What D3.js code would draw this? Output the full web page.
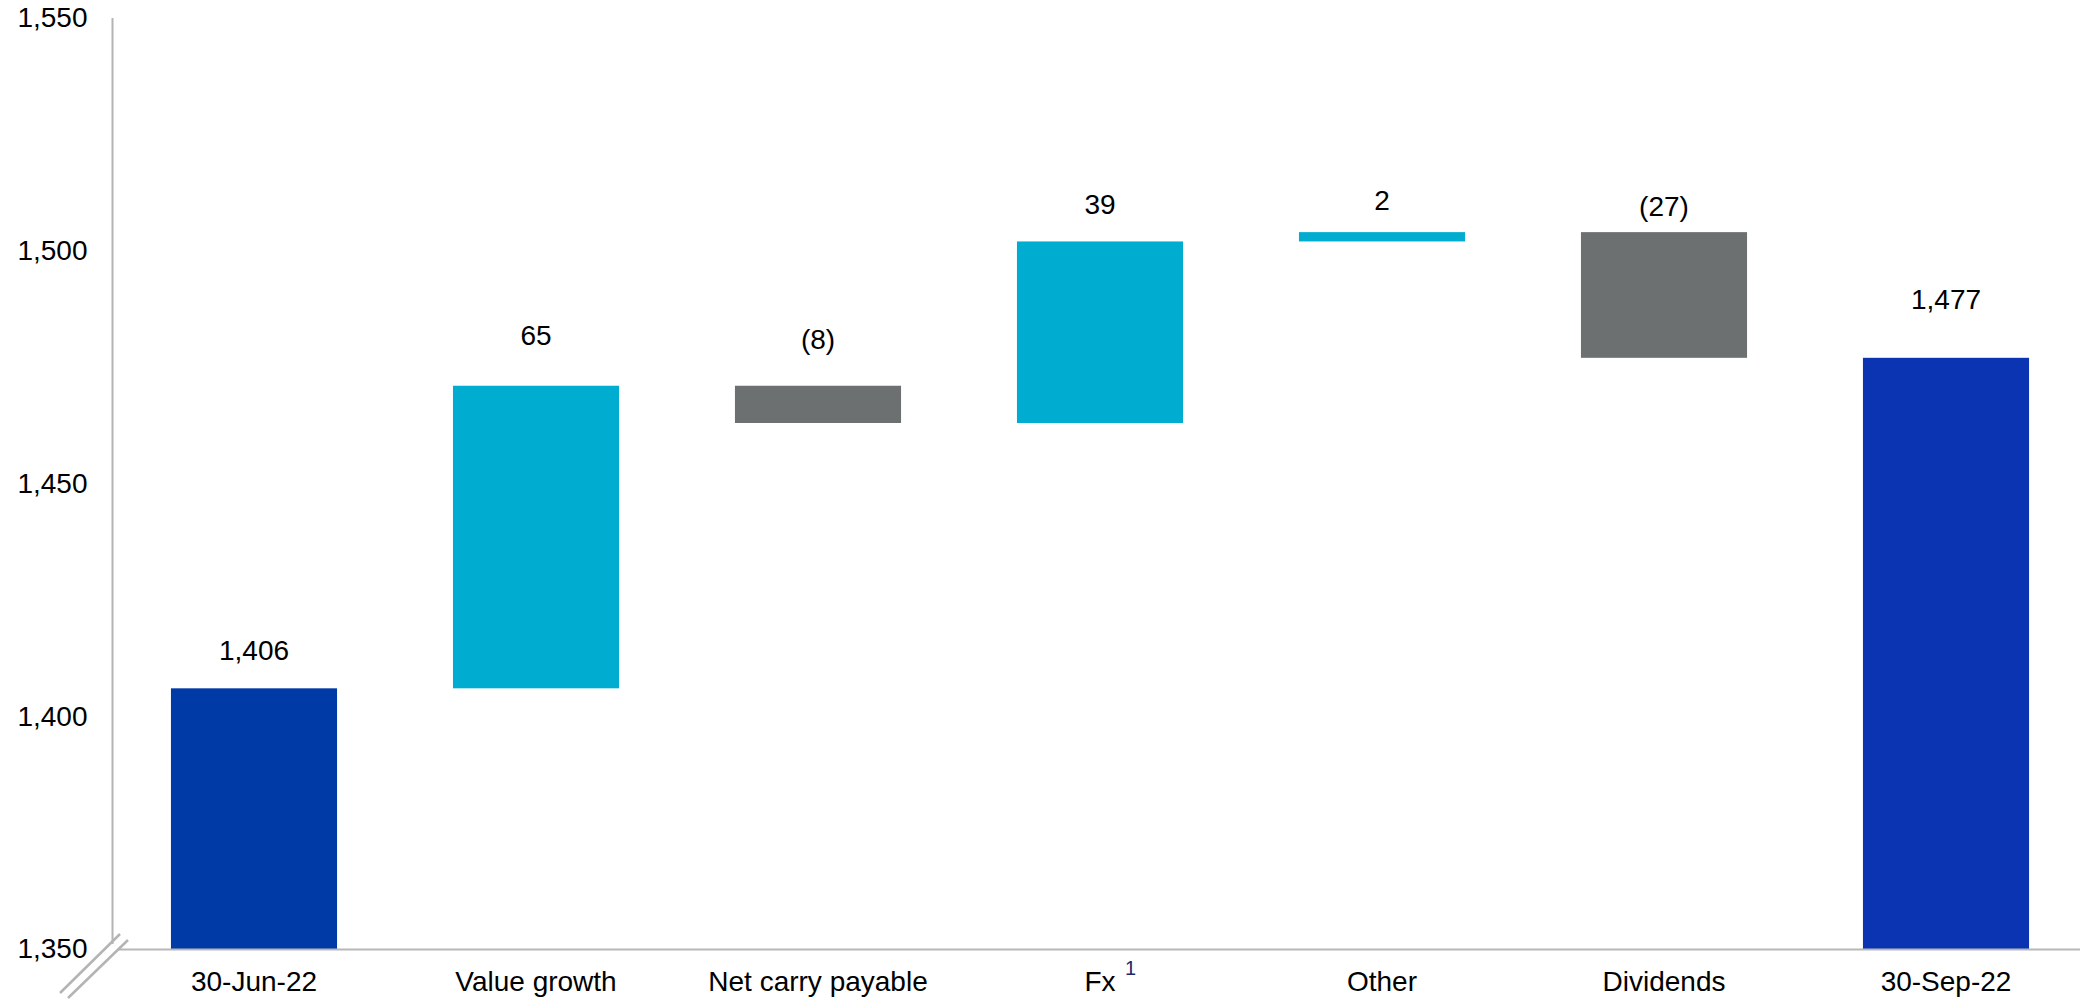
<!DOCTYPE html>
<html>
<head>
<meta charset="utf-8">
<script src="https://cdn.jsdelivr.net/npm/d3@7"></script>
<style>
  html, body { margin: 0; padding: 0; background: #fff; }
  svg { display: block; font-family: "Liberation Sans", Arial, sans-serif; }
</style>
</head>
<body>
<svg id="chart" width="2080" height="1002"></svg>
<script>
// ---- data ----
const categories = ["30-Jun-22", "Value growth", "Net carry payable", "Fx", "Other", "Dividends", "30-Sep-22"];
const kinds      = ["total", "delta", "delta", "delta", "delta", "delta", "total"];
const values     = [1406, 65, -8, 39, 2, -27, 1477];
const valueLabels = ["1,406", "65", "(8)", "39", "2", "(27)", "1,477"];
const yTicks     = [1350, 1400, 1450, 1500, 1550];
const yTickLabels = ["1,350", "1,400", "1,450", "1,500", "1,550"];

// ---- layout / style ----
const W = 2080, H = 1002;
const plot = { left: 113, right: 2087, top: 18, bottom: 949 };
const labelGap = [38, 50, 46, 37, 32, 26, 58]; // label centre above bar top (px)
const colors = { total0: "#003AA6", total1: "#0A34B2", up: "#00ADD1", down: "#6C7070" };

const svg = d3.select("#chart");

const x = d3.scaleBand().domain(categories)
  .range([plot.left, plot.right])
  .paddingInner(0.411).paddingOuter(0.2055);
const y = d3.scaleLinear().domain([1350, 1550]).range([plot.bottom, plot.top]);

// compute waterfall segments
let running = 0;
const segs = categories.map((c, i) => {
  let lo, hi, color;
  if (kinds[i] === "total") {
    lo = 1350; hi = values[i]; running = values[i];
    color = i === 0 ? colors.total0 : colors.total1;
  } else {
    const start = running, end = running + values[i];
    lo = Math.min(start, end); hi = Math.max(start, end);
    running = end;
    color = values[i] >= 0 ? colors.up : colors.down;
  }
  return { c, i, lo, hi, color };
});

// bars
svg.append("g").selectAll("rect").data(segs).join("rect")
  .attr("x", d => x(d.c))
  .attr("width", x.bandwidth())
  .attr("y", d => y(d.hi))
  .attr("height", d => y(d.lo) - y(d.hi))
  .attr("fill", d => d.color);

// value labels
svg.append("g").selectAll("text").data(segs).join("text")
  .attr("x", d => x(d.c) + x.bandwidth() / 2)
  .attr("y", d => y(d.hi) - labelGap[d.i])
  .attr("text-anchor", "middle")
  .attr("dominant-baseline", "central")
  .attr("font-size", 28)
  .attr("fill", "#000")
  .text(d => valueLabels[d.i]);

// y axis
const yAxis = d3.axisLeft(y).tickValues(yTicks)
  .tickFormat((d, i) => yTickLabels[i]).tickSize(0).tickPadding(25);
const gy = svg.append("g").attr("transform", `translate(${plot.left - 0.5},0)`).call(yAxis);
gy.select(".domain").remove();
gy.selectAll("text").attr("font-size", 28).attr("fill", "#000")
  .attr("font-family", "Liberation Sans, Arial, sans-serif");
svg.append("line")
  .attr("x1", plot.left - 0.5).attr("x2", plot.left - 0.5)
  .attr("y1", y(1550)).attr("y2", y(1350) - 5)
  .attr("stroke", "#b4b4b4").attr("stroke-width", 2);

// x axis
const xAxis = d3.axisBottom(x).tickSize(0).tickPadding(22);
const gx = svg.append("g").attr("transform", `translate(0,${plot.bottom})`).call(xAxis);
gx.select(".domain").remove();
gx.selectAll("text").attr("font-size", 28).attr("fill", "#000")
  .attr("font-family", "Liberation Sans, Arial, sans-serif");
svg.append("line")
  .attr("x1", plot.left + 5).attr("x2", W)
  .attr("y1", plot.bottom + 0.5).attr("y2", plot.bottom + 0.5)
  .attr("stroke", "#b8b8b8").attr("stroke-width", 2);

// superscript on Fx
gx.selectAll(".tick").filter(d => d === "Fx").each(function () {
  const t = d3.select(this).select("text");
  const w = t.node().getComputedTextLength();
  d3.select(this).append("text")
    .attr("x", w / 2 + 15)
    .attr("y", 12)
    .attr("font-size", 20)
    .attr("fill", "#1B2A6B")
    .attr("font-family", "Liberation Sans, Arial, sans-serif")
    .attr("dominant-baseline", "hanging")
    .text("1");
});

// axis break marks
const brk = svg.append("g").attr("stroke", "#b4b4b4").attr("stroke-width", 2.5);
brk.append("line").attr("x1", 60).attr("y1", 993).attr("x2", 120).attr("y2", 934);
brk.append("line").attr("x1", 68).attr("y1", 998).attr("x2", 128).attr("y2", 940);
</script>
</body>
</html>
